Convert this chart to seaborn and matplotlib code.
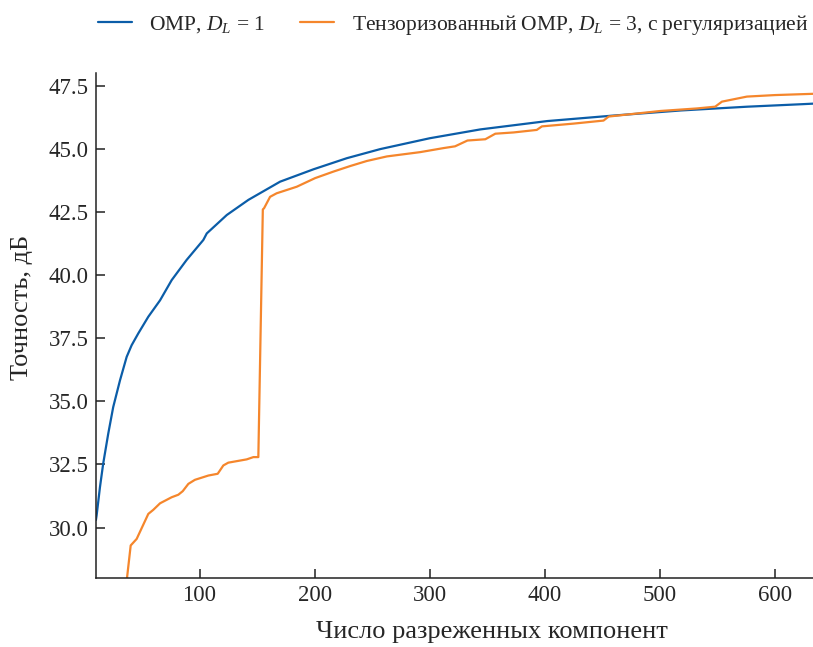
import pandas as pd
import matplotlib
matplotlib.use("Agg")
import matplotlib.pyplot as plt
import seaborn as sns

# OMP, D_L = 1
omp_x = [10, 10.6, 13.5, 16.3, 20.7, 25, 30.9, 36.7, 41, 46.8, 55.5, 65.7, 75.8, 88.8,
         103.3, 106.3, 123.7, 142.5, 170, 199, 228, 257, 300, 344, 402, 460, 518, 576,
         624, 633]
omp_y = [30.3, 30.48, 31.6, 32.53, 33.72, 34.77, 35.83, 36.76, 37.22, 37.69, 38.35, 39.0,
         39.8, 40.6, 41.39, 41.65, 42.38, 42.98, 43.7, 44.19, 44.63, 44.99, 45.42, 45.77,
         46.1, 46.32, 46.52, 46.67, 46.77, 46.79]

# tensorized OMP, D_L = 3, regularized
tomp_x = [36, 40.2, 45.4, 55.5, 59.8, 65.7, 75.8, 81.6, 85.4, 90.3, 96, 107.7, 115.8,
          120.7, 125, 141, 146.8, 151.1, 155, 156.1, 161.3, 167, 184.5, 200.4, 216.4,
          231, 245.4, 262.8, 291.7, 312, 322, 332.8, 348.3, 357, 372.9, 393, 397.5, 425,
          451, 455.5, 500.4, 532, 548, 553.9, 575.6, 600, 633]
tomp_y = [27.6, 29.29, 29.55, 30.54, 30.7, 30.96, 31.2, 31.3, 31.44, 31.73, 31.89, 32.06,
          32.13, 32.46, 32.57, 32.7, 32.79, 32.79, 42.6, 42.65, 43.1, 43.24, 43.5, 43.84,
          44.1, 44.32, 44.52, 44.7, 44.87, 45.03, 45.1, 45.33, 45.38, 45.6, 45.65, 45.75,
          45.89, 46.0, 46.12, 46.28, 46.5, 46.6, 46.67, 46.87, 47.07, 47.13, 47.18]

label_omp = "OMP, $D_L$ = 1"
label_tomp = "Тензоризованный OMP, $D_L$ = 3, с регуляризацией"
blue, orange = "#0b5da8", "#f5862c"

df = pd.concat([
    pd.DataFrame({"k": omp_x, "acc": omp_y, "method": label_omp}),
    pd.DataFrame({"k": tomp_x, "acc": tomp_y, "method": label_tomp}),
])

sns.set_theme(style="ticks")
plt.rcParams["font.family"] = ["Liberation Serif", "DejaVu Serif"]
plt.rcParams["mathtext.fontset"] = "custom"
plt.rcParams["mathtext.rm"] = "Liberation Serif"
plt.rcParams["mathtext.it"] = "Liberation Serif:italic"

fig = plt.figure(figsize=(8.13, 6.47), dpi=100)
ax = fig.add_axes([0.118, 0.1066, 0.882, 0.7804])
sns.lineplot(data=df, x="k", y="acc", hue="method", sort=False, estimator=None,
             palette=[blue, orange], linewidth=1.6, ax=ax, legend=False)

ax.set_xlim(10, 633)
ax.set_ylim(28, 48)
ax.set_yticks([30, 32.5, 35, 37.5, 40, 42.5, 45, 47.5])
ax.set_xticks([100, 200, 300, 400, 500, 600])
ax.set_xlabel("Число разреженных компонент", fontsize=19)
ax.set_ylabel("Точность, дБ", fontsize=19)
ax.xaxis.set_label_coords(0.552, -0.085)
ax.yaxis.set_label_coords(-0.088, 0.535)
ax.tick_params(direction="in", length=6.5, width=1.1, labelsize=16.5, color="#222222",
               pad=5)
for s in ["top", "right"]:
    ax.spines[s].set_visible(False)
for s in ["left", "bottom"]:
    ax.spines[s].set_linewidth(1.1)
    ax.spines[s].set_color("#222222")

handles = [plt.Line2D([], [], color=blue, lw=1.6),
           plt.Line2D([], [], color=orange, lw=1.6)]
fig.legend(handles, [label_omp, label_tomp], loc="upper center", ncol=2,
           bbox_to_anchor=(0.557, 1.01), frameon=False, fontsize=15.5,
           handlelength=1.6, handletextpad=0.8, columnspacing=1.6)

fig.savefig("out.png", dpi=100)
